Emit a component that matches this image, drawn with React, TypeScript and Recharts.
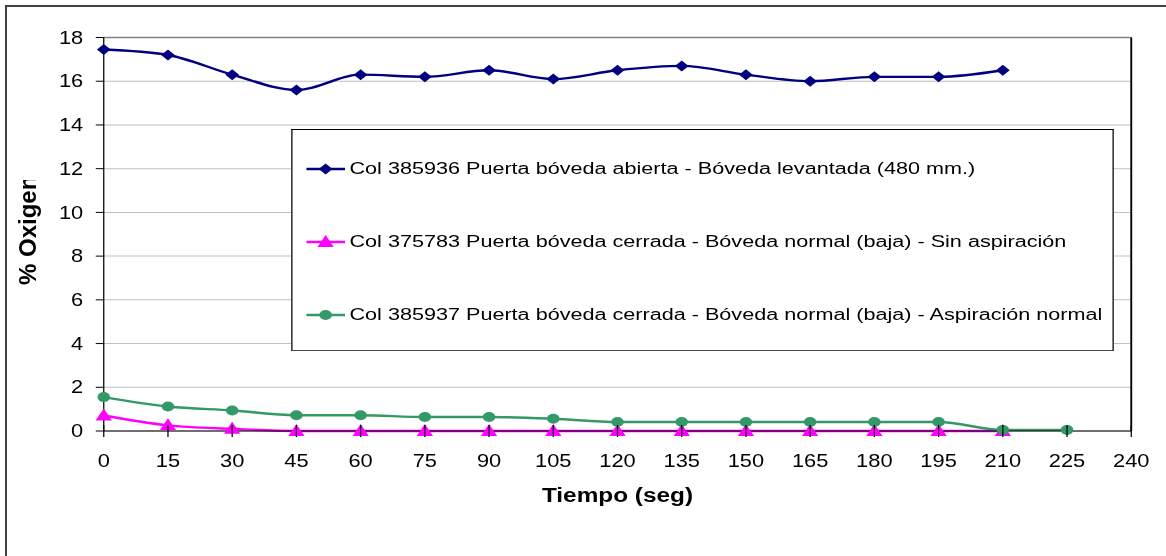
import React from 'react';
import {
  LineChart,
  Line,
  XAxis,
  YAxis,
  CartesianGrid,
  Legend,
  Label,
  ReferenceLine,
} from 'recharts';

// tiempo en segundos
const tiempo = [0, 15, 30, 45, 60, 75, 90, 105, 120, 135, 150, 165, 180, 195, 210, 225];

// % oxigeno por colada
const col385936 = [17.45, 17.2, 16.3, 15.6, 16.3, 16.2, 16.5, 16.1, 16.5, 16.7, 16.3, 16.0, 16.2, 16.2, 16.5, null];
const col375783 = [0.71, 0.26, 0.1, 0, 0, 0, 0, 0, 0, 0, 0, 0, 0, 0, 0, null];
const col385937 = [1.55, 1.12, 0.94, 0.72, 0.72, 0.64, 0.64, 0.56, 0.41, 0.41, 0.41, 0.41, 0.41, 0.41, 0.05, 0.05];

const xTicks = [0, 15, 30, 45, 60, 75, 90, 105, 120, 135, 150, 165, 180, 195, 210, 225, 240];
const yTicks = [0, 2, 4, 6, 8, 10, 12, 14, 16, 18];

const names = {
  a: 'Col 385936 Puerta bóveda abierta - Bóveda levantada (480 mm.)',
  b: 'Col 375783 Puerta bóveda cerrada - Bóveda normal (baja) - Sin aspiración',
  c: 'Col 385937 Puerta bóveda cerrada - Bóveda normal (baja) - Aspiración normal',
};

const data = tiempo.map((t, i) => ({
  t,
  a: col385936[i],
  b: col375783[i],
  c: col385937[i],
}));

const FONT = '"Liberation Sans", Arial, sans-serif';
// the original picture is stretched sideways, so the whole chart is too
const STRETCH = 1.25;
const W = 933;

const Marker = ({ kind, cx, cy, color }: { kind: string; cx: number; cy: number; color: string }) => {
  if (kind === 'a') {
    return <polygon points={`${cx},${cy - 5.5} ${cx + 5.5},${cy} ${cx},${cy + 5.5} ${cx - 5.5},${cy}`} fill={color} />;
  }
  if (kind === 'b') {
    return <polygon points={`${cx},${cy - 7} ${cx + 6.5},${cy + 5} ${cx - 6.5},${cy + 5}`} fill={color} />;
  }
  return <circle cx={cx} cy={cy} r={5} fill={color} />;
};

const makeDot = (kind: string, color: string) => (props: any) => {
  const { cx, cy, index } = props;
  if (cx == null || cy == null || props.value == null) return <g key={`${kind}-${index}`} />;
  return (
    <g key={`${kind}-${index}`}>
      <Marker kind={kind} cx={cx} cy={cy} color={color} />
    </g>
  );
};

const LegendBox = (props: any) => {
  const { payload } = props;
  return (
    <div
      style={{
        width: 658,
        height: 222,
        border: '1px solid #000',
        borderBottomColor: '#444',
        background: '#fff',
        boxSizing: 'border-box',
        paddingTop: 2,
        fontFamily: FONT,
        fontSize: 17.3,
        color: '#000',
      }}
    >
      {(payload || []).map((p: any) => (
        <div key={p.dataKey} style={{ display: 'flex', alignItems: 'center', height: 73, paddingLeft: 11 }}>
          <svg width={31} height={16} style={{ marginRight: 4, flex: 'none' }}>
            <line x1={0} y1={8} x2={31} y2={8} stroke={p.color} strokeWidth={2.5} />
            <Marker kind={p.dataKey} cx={15.5} cy={8} color={p.color} />
          </svg>
          <span style={{ whiteSpace: 'nowrap' }}>{p.value}</span>
        </div>
      ))}
    </div>
  );
};

const XTick = (props: any) => {
  const { x, y, payload } = props;
  return (
    <g>
      <line x1={x} x2={x} y1={y - 30} y2={y - 18} stroke="#000" />
      <text x={x} y={y} dy="0.71em" textAnchor="middle" fontFamily={FONT} fontSize={17.5} fill="#000">
        {payload.value}
      </text>
    </g>
  );
};

const YTitle = () => (
  <g>
    <defs>
      <clipPath id="ytitle-clip">
        <rect x={0} y={180} width={70} height={300} />
      </clipPath>
    </defs>
    <g clipPath="url(#ytitle-clip)">
      <text
        x={0}
        y={0}
        transform={`translate(28.8 285) scale(${1 / STRETCH} 1) rotate(-90)`}
        textAnchor="start"
        fontFamily={FONT}
        fontWeight="bold"
        fontSize={24}
        fill="#000"
      >
        % Oxigeno
      </text>
    </g>
  </g>
);

const App = () => {
  return (
    <div>
      <div
        style={{
          position: 'fixed',
          left: 5,
          top: 5,
          width: 1200,
          height: 600,
          borderTop: '2px solid #404040',
          borderLeft: '2px solid #404040',
        }}
      />
      <div
        style={{
          position: 'fixed',
          left: 0,
          top: 0,
          width: W,
          height: 556,
          transform: `scaleX(${STRETCH})`,
          transformOrigin: '0 0',
        }}
      >
        <LineChart
          width={W}
          height={556}
          data={data}
          margin={{ top: 37.5, right: 28, bottom: 68, left: 13 }}
          style={{ fontFamily: FONT }}
        >
          <CartesianGrid horizontal vertical={false} stroke="#c0c0c0" />
          <ReferenceLine y={18} stroke="#808080" strokeWidth={1.5} />
          <ReferenceLine x={240} stroke="#000" strokeWidth={1.5} />
          <XAxis
            dataKey="t"
            type="number"
            domain={[0, 240]}
            ticks={xTicks}
            interval={0}
            height={57}
            tickSize={6}
            tickMargin={18}
            tickLine={false}
            stroke="#000"
            tick={<XTick />}
          >
            <Label
              value="Tiempo (seg)"
              position="bottom"
              offset={0}
              style={{ fontWeight: 'bold', fontSize: 19.5, fill: '#000', fontFamily: FONT }}
            />
          </XAxis>
          <YAxis
            type="number"
            domain={[0, 18]}
            ticks={yTicks}
            interval={0}
            width={70}
            tickSize={6.4}
            tickMargin={10}
            stroke="#000"
            tick={{ fill: '#000', fontSize: 17.5, fontFamily: FONT }}
          >
            <Label content={() => <YTitle />} />
          </YAxis>
          <Legend
            layout="horizontal"
            verticalAlign="middle"
            align="center"
            itemSorter="dataKey"
            content={<LegendBox />}
            wrapperStyle={{ left: 232.6, top: 129.3, width: 658, height: 222 }}
          />
          <Line
            dataKey="a"
            name={names.a}
            type="monotone"
            stroke="#000080"
            strokeWidth={2.4}
            dot={makeDot('a', '#000080')}
            activeDot={false}
            isAnimationActive={false}
          />
          <Line
            dataKey="b"
            name={names.b}
            type="monotone"
            stroke="#FF00FF"
            strokeWidth={2.4}
            dot={makeDot('b', '#FF00FF')}
            activeDot={false}
            isAnimationActive={false}
          />
          <Line
            dataKey="c"
            name={names.c}
            type="monotone"
            stroke="#339966"
            strokeWidth={2.4}
            dot={makeDot('c', '#339966')}
            activeDot={false}
            isAnimationActive={false}
          />
        </LineChart>
      </div>
    </div>
  );
};

export default App;
